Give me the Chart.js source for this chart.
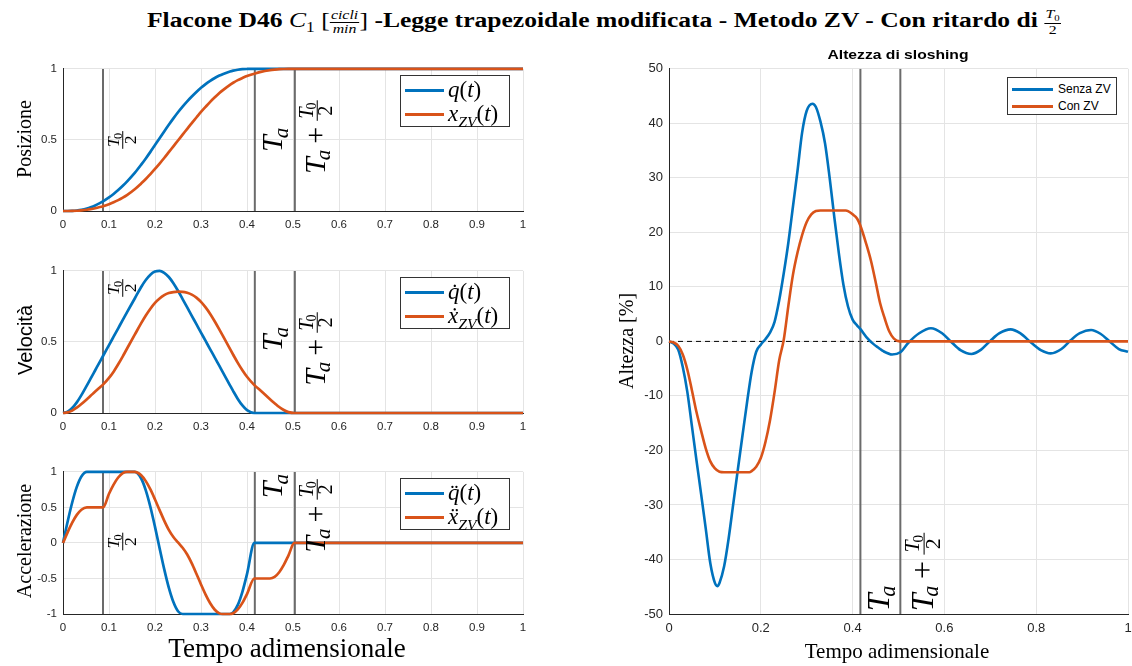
<!DOCTYPE html>
<html>
<head>
<meta charset="utf-8">
<script src="https://cdn.jsdelivr.net/npm/chart.js@4.4.0/dist/chart.umd.min.js"></script>
<style>
  body { margin:0; background:#fff; width:1132px; height:666px; overflow:hidden; position:relative; font-family:"Liberation Serif", serif; }
  canvas { position:absolute; }
  .lbl { position:absolute; white-space:nowrap; color:#000; line-height:1; }
  .yt { transform: translate(-50%,-50%) rotate(-90deg); }
  .ct { transform: translate(-50%,0); }
  .legend { position:absolute; background:#fff; border:1px solid #333; box-sizing:border-box; }
  .sw { position:absolute; height:3px; }
  .lt { position:absolute; white-space:nowrap; font-size:23px; line-height:24px; }
  .frac { display:inline-block; vertical-align:middle; text-align:center; font-size:0.62em; line-height:1.05; font-weight:normal; }
  .frac > span { display:block; }
  .frac > span.num { border-bottom:1px solid #000; padding:0 1px; }
  sub { font-size:0.68em; }
</style>
</head>
<body>
<div id="title" class="lbl ct" style="left:604px; top:8px; font-size:20px; font-weight:bold;">Flacone D46 <span style="font-weight:normal"><i>C</i><sub>1</sub></span> <span style="font-weight:normal">[<span class="frac"><span class="num"><i>cicli</i></span><span><i>min</i></span></span>]</span> -Legge trapezoidale modificata - Metodo ZV - Con ritardo di <span class="frac"><span class="num"><i>T</i><sub>0</sub></span><span>2</span></span></div>

<canvas id="pos"></canvas>
<canvas id="vel"></canvas>
<canvas id="acc"></canvas>
<canvas id="slosh"></canvas>

<div class="lbl yt" style="left:24px; top:139px; font-size:20px;">Posizione</div>
<div class="lbl yt" style="left:25px; top:340px; font-size:20px; font-family:'Liberation Sans', Arial, sans-serif;">Velocità</div>
<div class="lbl yt" style="left:24px; top:541px; font-size:20px;">Accelerazione</div>
<div class="lbl ct" style="left:287px; top:635px; font-size:27px;">Tempo adimensionale</div>

<div id="stitle" class="lbl ct" style="left:898px; top:48px; font-size:13px; font-weight:bold; font-family:'Liberation Sans', Arial, sans-serif;">Altezza di sloshing</div>
<div class="lbl yt" style="left:626px; top:341px; font-size:20px;">Altezza [%]</div>
<div class="lbl ct" style="left:897px; top:641px; font-size:21px;">Tempo adimensionale</div>

<div class="legend" style="left:400px; top:75px; width:110px; height:52px;">
  <div class="sw" style="left:4px; top:13px; width:39px; background:#0072BD"></div>
  <div class="lt" style="left:47px; top:2px;"><i>q</i>(<i>t</i>)</div>
  <div class="sw" style="left:4px; top:37px; width:39px; background:#D95319"></div>
  <div class="lt" style="left:47px; top:26px;"><i>x</i><sub><i>ZV</i></sub>(<i>t</i>)</div>
</div>
<div class="legend" style="left:400px; top:277px; width:110px; height:52px;">
  <div class="sw" style="left:4px; top:13px; width:39px; background:#0072BD"></div>
  <div class="lt" style="left:47px; top:2px;"><i>q&#775;</i>(<i>t</i>)</div>
  <div class="sw" style="left:4px; top:37px; width:39px; background:#D95319"></div>
  <div class="lt" style="left:47px; top:26px;"><i>x&#775;</i><sub><i>ZV</i></sub>(<i>t</i>)</div>
</div>
<div class="legend" style="left:400px; top:478px; width:110px; height:52px;">
  <div class="sw" style="left:4px; top:13px; width:39px; background:#0072BD"></div>
  <div class="lt" style="left:47px; top:2px;"><i>q&#776;</i>(<i>t</i>)</div>
  <div class="sw" style="left:4px; top:37px; width:39px; background:#D95319"></div>
  <div class="lt" style="left:47px; top:26px;"><i>x&#776;</i><sub><i>ZV</i></sub>(<i>t</i>)</div>
</div>
<div class="legend" style="left:1007px; top:77px; width:110px; height:38px; font-family:'Liberation Sans', Arial, sans-serif; font-size:12px;">
  <div class="sw" style="left:4px; top:10px; width:41px; height:2.5px; background:#0072BD"></div>
  <div style="position:absolute; left:50px; top:4px;">Senza ZV</div>
  <div class="sw" style="left:4px; top:27px; width:41px; height:2.5px; background:#D95319"></div>
  <div style="position:absolute; left:50px; top:21px;">Con ZV</div>
</div>

<script>
// tempo adimensionale (pannelli di sinistra)
const tempo = [0, 0.01, 0.02, 0.03, 0.04, 0.052, 0.06, 0.07, 0.08, 0.087, 0.1, 0.11, 0.12, 0.13, 0.139, 0.156,
  0.17, 0.18, 0.19, 0.2, 0.21, 0.22, 0.23, 0.24, 0.25, 0.26, 0.27, 0.28, 0.29, 0.3, 0.31, 0.32, 0.33, 0.34,
  0.347, 0.363, 0.37, 0.38, 0.39, 0.4, 0.416, 0.43, 0.45, 0.46, 0.47, 0.48, 0.49, 0.503, 0.6, 0.7, 0.8, 0.9, 1];

const posQ = [0, 0.0001, 0.0011, 0.0037, 0.0085, 0.0177, 0.0262, 0.0393, 0.0553, 0.068, 0.0957, 0.12, 0.1474, 0.1776, 0.207, 0.268,
  0.326, 0.37, 0.416, 0.464, 0.512, 0.56, 0.607, 0.652, 0.695, 0.735, 0.772, 0.806, 0.838, 0.867, 0.8925, 0.9155, 0.936, 0.953,
  0.963, 0.982, 0.988, 0.994, 0.998, 0.9995, 1, 1, 1, 1, 1, 1, 1, 1, 1, 1, 1, 1, 1];
const posZv = [0, 0.0001, 0.0006, 0.0019, 0.0043, 0.0089, 0.0131, 0.0197, 0.0277, 0.034, 0.048, 0.061, 0.0762, 0.094, 0.112, 0.153,
  0.194, 0.225, 0.26, 0.296, 0.334, 0.373, 0.414, 0.455, 0.496, 0.537, 0.578, 0.619, 0.658, 0.697, 0.733, 0.768, 0.8, 0.83,
  0.849, 0.888, 0.9025, 0.921, 0.936, 0.95, 0.966, 0.979, 0.991, 0.995, 0.998, 0.9993, 0.9999, 1, 1, 1, 1, 1, 1];

const velQ = [0, 0.009, 0.035, 0.075, 0.126, 0.195, 0.242, 0.301, 0.36, 0.401, 0.478, 0.537, 0.596, 0.655, 0.708, 0.806,
  0.887, 0.936, 0.973, 0.995, 1, 0.986, 0.957, 0.913, 0.86, 0.802, 0.743, 0.684, 0.625, 0.566, 0.507, 0.448, 0.39, 0.331,
  0.29, 0.195, 0.154, 0.099, 0.053, 0.02, 0, 0, 0, 0, 0, 0, 0, 0, 0, 0, 0, 0, 0];
const velZv = [0, 0.0045, 0.017, 0.038, 0.063, 0.097, 0.121, 0.151, 0.18, 0.2, 0.247, 0.291, 0.343, 0.399, 0.452, 0.551,
  0.632, 0.686, 0.734, 0.775, 0.806, 0.829, 0.844, 0.851, 0.854, 0.853, 0.846, 0.833, 0.812, 0.782, 0.743, 0.697, 0.644, 0.587,
  0.546, 0.451, 0.41, 0.353, 0.301, 0.255, 0.196, 0.157, 0.097, 0.069, 0.042, 0.021, 0.006, 0, 0, 0, 0, 0, 0];

const accQ = [0, 0.298, 0.569, 0.789, 0.936, 1, 1, 1, 1, 1, 1, 1, 1, 1, 1, 1,
  0.907, 0.74, 0.506, 0.226, -0.075, -0.369, -0.629, -0.832, -0.961, -1, -1, -1, -1, -1, -1, -1, -1, -1,
  -1, -1, -0.978, -0.872, -0.687, -0.438, 0, 0, 0, 0, 0, 0, 0, 0, 0, 0, 0, 0, 0];
const accZv = [0, 0.149, 0.285, 0.395, 0.468, 0.5, 0.5, 0.5, 0.5, 0.5, 0.692, 0.821, 0.921, 0.982, 1, 1,
  0.953, 0.87, 0.753, 0.612, 0.462, 0.315, 0.185, 0.084, 0.007, -0.068, -0.163, -0.288, -0.433, -0.584, -0.727, -0.849, -0.94, -0.991,
  -1, -1, -0.989, -0.936, -0.844, -0.719, -0.5, -0.5, -0.5, -0.478, -0.412, -0.309, -0.178, 0, 0, 0, 0, 0, 0];

// altezza di sloshing [%]
const tSenza = [0, 0.01, 0.02, 0.03, 0.04, 0.05, 0.06, 0.07, 0.08, 0.09, 0.1, 0.1054, 0.11, 0.12, 0.13, 0.14, 0.15, 0.16, 0.17, 0.18,
  0.19, 0.2, 0.21, 0.22, 0.23, 0.24, 0.25, 0.26, 0.27, 0.28, 0.29, 0.3, 0.3125, 0.32, 0.33, 0.34, 0.35, 0.36, 0.37, 0.38,
  0.39, 0.4, 0.41, 0.4166, 0.43, 0.4457, 0.457, 0.467, 0.486, 0.504, 0.522, 0.545, 0.5706, 0.595, 0.615, 0.635, 0.659, 0.68,
  0.7, 0.72, 0.7444, 0.765, 0.79, 0.81, 0.8317, 0.855, 0.875, 0.895, 0.9197, 0.94, 0.96, 0.98, 1];
const senzaZv = [0, -0.4, -1.5, -4.7, -9.3, -15.6, -21.9, -28.0, -34.3, -40.7, -44.3, -44.9, -44.3, -41.3, -36.1, -29.8, -23.5, -17.3, -11.2, -5.6,
  -1.9, -0.6, 0.4, 1.6, 3.6, 7.5, 12.5, 18.1, 24.7, 31.3, 38.3, 42.3, 43.6, 43.0, 40.3, 36.3, 30.0, 22.9, 16.2, 10.4,
  6.4, 4.0, 2.9, 2.3, 0.8, -0.5, -1.2, -1.8, -2.4, -2.0, -0.2, 1.5, 2.4, 1.5, -0.1, -1.6, -2.3, -1.5,
  0.1, 1.5, 2.2, 1.5, -0.3, -1.6, -2.2, -1.4, 0.2, 1.5, 2.1, 1.4, 0.0, -1.4, -1.9];
const tCon = [0, 0.01, 0.02, 0.03, 0.04, 0.05, 0.06, 0.07, 0.08, 0.09, 0.1, 0.11, 0.12, 0.175, 0.18, 0.19, 0.2, 0.21, 0.22, 0.23,
  0.24, 0.25, 0.26, 0.27, 0.28, 0.29, 0.3, 0.31, 0.32, 0.33, 0.385, 0.39, 0.4, 0.41, 0.4166, 0.43, 0.44, 0.45, 0.46, 0.47,
  0.48, 0.49, 0.503, 1];
const conZv = [0, -0.2, -0.8, -2.4, -5.2, -9.0, -13.0, -16.4, -19.6, -22.0, -23.3, -23.9, -24, -24, -23.8, -23.0, -21.4, -18.5, -14.5, -9.3,
  -3.5, 0.3, 6.5, 12.2, 16.3, 19.5, 21.9, 23.3, 23.9, 24, 24, 23.9, 23.3, 22.5, 21.3, 17.8, 14.8, 11.0, 7.0, 4.2,
  1.8, 0.5, 0, 0];

// istanti caratteristici
const T0mezzi = 0.087;
const Ta = 0.417;
const TaPiuT0mezzi = 0.504;

const BLU = '#0072BD', ARANCIO = '#D95319', GRIGIO = '#6b6b6b';
const SERIF = '"Liberation Serif", "DejaVu Serif", serif';
const SANS = '"Liberation Sans", Arial, sans-serif';

function punti(xs, ys) { return xs.map((x, i) => ({x: x, y: ys[i]})); }

function curva(xs, ys, colore, w) {
  return {data: punti(xs, ys), borderColor: colore, borderWidth: w, pointRadius: 0,
    showLine: true, fill: false, cubicInterpolationMode: 'monotone', clip: false};
}
function xline(x, ymin, ymax) {
  return {data: [{x: x, y: ymin}, {x: x, y: ymax}], borderColor: GRIGIO, borderWidth: 2, pointRadius: 0, showLine: true};
}

// T con pedice
function tSub(ctx, u, vb, size, sub, italicSub, draw) {
  ctx.font = 'italic ' + size + 'px ' + SERIF;
  const wT = ctx.measureText('T').width;
  if (draw) ctx.fillText('T', u, vb);
  const ss = size * 0.7;
  ctx.font = (italicSub ? 'italic ' : '') + ss + 'px ' + SERIF;
  const ws = ctx.measureText(sub).width;
  if (draw) ctx.fillText(sub, u + wT - size * 0.1, vb + size * 0.17);
  return wT - size * 0.1 + ws;
}
// frazione T0/2
function frac(ctx, u, axis, fs, draw) {
  const wn = tSub(ctx, 0, 0, fs, '0', false, false);
  ctx.font = fs + 'px ' + SERIF;
  const wd = ctx.measureText('2').width;
  const w = Math.max(wn, wd) + fs * 0.2;
  if (draw) {
    tSub(ctx, u + (w - wn) / 2, axis - fs * 0.22, fs, '0', false, true);
    ctx.fillRect(u, axis - 0.5, w, 1);
    ctx.font = fs + 'px ' + SERIF;
    ctx.fillText('2', u + (w - wd) / 2, axis + fs * 0.74);
  }
  return w;
}
function etichetta(ctx, kind, u, size, draw) {
  if (kind === 'half') { const fs = 17.6; return frac(ctx, u, fs * 0.95, fs, draw); }
  if (kind === 'ta') return tSub(ctx, u, size * 0.72, size, 'a', true, draw);
  const vb = size * 0.95;
  let w = tSub(ctx, u, vb, size, 'a', true, draw);
  ctx.font = size + 'px ' + SERIF;
  const gap = size * 0.2, wp = ctx.measureText('+').width;
  if (draw) ctx.fillText('+', u + w + gap, vb);
  w += gap * 2 + wp;
  w += frac(ctx, u + w, vb - size * 0.27, size * 0.68, draw);
  return w;
}

const xlineLabels = {
  id: 'xlineLabels',
  afterDatasetsDraw(chart, args, opts) {
    const ctx = chart.ctx, xs = chart.scales.x, ys = chart.scales.y;
    (opts.items || []).forEach(it => {
      const px = xs.getPixelForValue(it.x) + it.gap;
      const py = ys.getPixelForValue(it.y);
      ctx.save();
      ctx.fillStyle = '#000';
      ctx.textBaseline = 'alphabetic';
      ctx.translate(px, py);
      ctx.rotate(-Math.PI / 2);
      const w = etichetta(ctx, it.kind, 0, opts.size, false);
      etichetta(ctx, it.kind, it.align === 'start' ? 0 : -w / 2, opts.size, true);
      ctx.restore();
    });
  }
};

function assi(ymin, ymax, ystep, xstep, fs, yW, xH) {
  const tk = {color: '#262626', font: {family: SANS, size: fs},
    callback: v => String(parseFloat(Number(v).toFixed(2)))};
  const grid = {color: '#e4e4e4', drawTicks: false};
  const border = {color: '#262626', width: 1};
  return {
    x: {type: 'linear', min: 0, max: 1, grid: grid, border: border,
      ticks: Object.assign({stepSize: xstep, padding: 7, maxRotation: 0, autoSkip: false}, tk),
      afterFit: s => { s.height = xH; }},
    y: {type: 'linear', min: ymin, max: ymax, grid: grid, border: border,
      ticks: Object.assign({stepSize: ystep, padding: 6}, tk),
      afterFit: s => { s.width = yW; }}
  };
}

function grafico(id, area, yW, xH, datasets, scales, labels, labelSize) {
  const c = document.getElementById(id);
  const padT = 10, padR = 12;
  const w = area.r - area.l + yW + padR;
  const h = area.b - area.t + padT + xH;
  c.width = w; c.height = h;
  c.style.left = (area.l - yW) + 'px';
  c.style.top = (area.t - padT) + 'px';
  c.style.width = w + 'px';
  c.style.height = h + 'px';
  return new Chart(c, {
    type: 'scatter',
    data: {datasets: datasets},
    options: {
      responsive: false, animation: false,
      layout: {padding: {top: padT, right: padR, left: 0, bottom: 0}},
      scales: scales,
      plugins: {legend: {display: false}, tooltip: {enabled: false},
        xlineLabels: {items: labels, size: labelSize}}
    },
    plugins: [xlineLabels]
  });
}

function sinistra(id, top, yq, yzv, ymin, ymax, ystep, labels) {
  return grafico(id, {l: 63, r: 523, t: top, b: top + 145}, 50, 28, [
    curva(tempo, yzv, ARANCIO, 2.7),
    curva(tempo, yq, BLU, 2.7),
    xline(T0mezzi, ymin, ymax), xline(Ta, ymin, ymax), xline(TaPiuT0mezzi, ymin, ymax)
  ], assi(ymin, ymax, ystep, 0.1, 11.5, 50, 28), labels, 30);
}

sinistra('pos', 66, posQ, posZv, 0, 1, 0.5, [
  {x: T0mezzi, y: 0.5, gap: 3, kind: 'half'},
  {x: Ta, y: 0.5, gap: 6, kind: 'ta'},
  {x: TaPiuT0mezzi, y: 0.52, gap: 2, kind: 'taHalf'}]);
sinistra('vel', 268, velQ, velZv, 0, 1, 0.5, [
  {x: T0mezzi, y: 0.88, gap: 3, kind: 'half'},
  {x: Ta, y: 0.52, gap: 6, kind: 'ta'},
  {x: TaPiuT0mezzi, y: 0.45, gap: 2, kind: 'taHalf'}]);
sinistra('acc', 469, accQ, accZv, -1, 1, 0.5, [
  {x: T0mezzi, y: 0.02, gap: 3, kind: 'half'},
  {x: Ta, y: 0.8, gap: 6, kind: 'ta'},
  {x: TaPiuT0mezzi, y: 0.38, gap: 2, kind: 'taHalf'}]);

grafico('slosh', {l: 669, r: 1128, t: 65, b: 614}, 50, 30, [
  curva(tCon, conZv, ARANCIO, 2.6),
  curva(tSenza, senzaZv, BLU, 2.6),
  xline(Ta, -50, 50), xline(TaPiuT0mezzi, -50, 50),
  {data: [{x: 0, y: 0}, {x: 1, y: 0}], borderColor: '#000', borderWidth: 1, borderDash: [5, 4], pointRadius: 0, showLine: true}
], assi(-50, 50, 10, 0.2, 13, 50, 30), [
  {x: Ta, y: -49.5, gap: 6, kind: 'ta', align: 'start'},
  {x: TaPiuT0mezzi, y: -49.5, gap: 2, kind: 'taHalf', align: 'start'}], 32);

// adatta la larghezza dei titoli
function adatta(id, larghezza) {
  const el = document.getElementById(id);
  el.style.transform = 'translate(-50%,0) scaleX(' + (larghezza / el.offsetWidth) + ')';
}
adatta('title', 914);
adatta('stitle', 141);
</script>
</body>
</html>
